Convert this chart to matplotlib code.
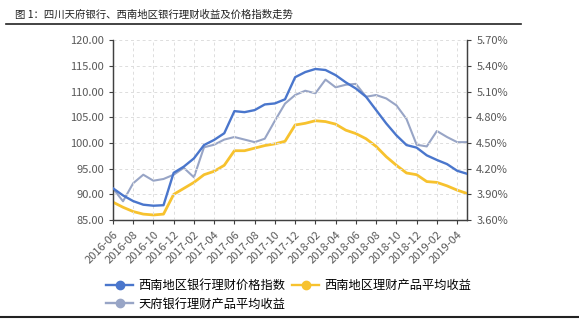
import numpy as np
import matplotlib
matplotlib.use("Agg")
import matplotlib.pyplot as plt
from matplotlib.lines import Line2D

plt.rcParams['font.family'] = ['Noto Sans CJK SC', 'DejaVu Sans']

# monthly, 2016-06 .. 2019-05
months = ['2016-06', '2016-07', '2016-08', '2016-09', '2016-10', '2016-11',
          '2016-12', '2017-01', '2017-02', '2017-03', '2017-04', '2017-05',
          '2017-06', '2017-07', '2017-08', '2017-09', '2017-10', '2017-11',
          '2017-12', '2018-01', '2018-02', '2018-03', '2018-04', '2018-05',
          '2018-06', '2018-07', '2018-08', '2018-09', '2018-10', '2018-11',
          '2018-12', '2019-01', '2019-02', '2019-03', '2019-04', '2019-05']

# 西南地区银行理财价格指数 (left axis)
price_index = [91.2, 89.8, 88.7, 88.0, 87.8, 87.9, 94.2, 95.4, 97.0, 99.6,
               100.6, 101.9, 106.2, 106.0, 106.4, 107.5, 107.7, 108.5, 112.8, 113.8,
               114.4, 114.2, 113.2, 111.8, 110.6, 109.0, 106.4, 103.8, 101.5, 99.6,
               99.1, 97.6, 96.7, 95.9, 94.6, 94.0]

# 西南地区理财产品平均收益 (%, right axis)
sw_yield = [3.81, 3.75, 3.70, 3.67, 3.66, 3.67, 3.90, 3.97, 4.04, 4.13,
            4.17, 4.24, 4.41, 4.41, 4.44, 4.47, 4.49, 4.52, 4.71, 4.73,
            4.76, 4.75, 4.72, 4.65, 4.61, 4.55, 4.46, 4.34, 4.24, 4.15,
            4.13, 4.05, 4.04, 4.00, 3.95, 3.91]

# 天府银行理财产品平均收益 (%, right axis)
tf_yield = [3.97, 3.82, 4.03, 4.13, 4.06, 4.08, 4.13, 4.21, 4.10, 4.45,
            4.48, 4.54, 4.57, 4.54, 4.51, 4.55, 4.76, 4.96, 5.06, 5.11,
            5.08, 5.24, 5.15, 5.18, 5.19, 5.04, 5.06, 5.02, 4.94, 4.78,
            4.48, 4.46, 4.64, 4.57, 4.51, 4.51]

labels = ['西南地区银行理财价格指数', '西南地区理财产品平均收益', '天府银行理财产品平均收益']
colors = ['#4a76cc', '#f7c22e', '#98a5c6']

fig = plt.figure(figsize=(5.79, 3.19), dpi=100)
ax = fig.add_axes([0.195, 0.31, 0.612, 0.564])
ax2 = ax.twinx()

x = np.arange(len(months))
ax.plot(x, price_index, color=colors[0], lw=1.7, zorder=4)
ax2.plot(x, sw_yield, color=colors[1], lw=2.0, zorder=3)
ax2.plot(x, tf_yield, color=colors[2], lw=1.5, zorder=2)
ax.set_zorder(ax2.get_zorder() + 1)
ax.patch.set_visible(False)

ax.set_xlim(0, 35)
ax.set_ylim(85, 120)
ax.set_yticks(np.arange(85, 120.1, 5))
ax.set_yticklabels(['%.2f' % v for v in np.arange(85, 120.1, 5)])
ax2.set_ylim(3.6, 5.7)
yt = np.arange(3.6, 5.71, 0.3)
ax2.set_yticks(yt)
ax2.set_yticklabels(['%.2f%%' % v for v in yt])

ax.set_xticks(x[::2])
ax.set_xticklabels(months[::2], rotation=45, ha='right', rotation_mode='anchor')

ax.grid(True, color='#dddddd', ls=(0, (3, 3)), lw=0.7)
for a in (ax, ax2):
    a.spines['top'].set_visible(False)
    for s in ('left', 'right', 'bottom'):
        a.spines[s].set_color('#404040')
        a.spines[s].set_linewidth(0.9)
    a.tick_params(labelsize=8, colors='#595959', length=3, width=0.8)
    a.tick_params(axis='both', color='#404040')

handles = [Line2D([], [], color=c, lw=1.7, marker='o', ms=6) for c in colors]
# column-major fill: put the gray one second so rows read blue, yellow / gray
fig.legend([handles[0], handles[2], handles[1]], [labels[0], labels[2], labels[1]],
           ncol=2, loc='upper left',
           bbox_to_anchor=(0.175, 0.14), frameon=False, fontsize=8.8,
           handlelength=2.2, columnspacing=0.6, labelspacing=0.45,
           borderaxespad=0, handletextpad=0.4)

fig.text(0.026, 0.97, '图 1：四川天府银行、西南地区银行理财收益及价格指数走势',
         fontsize=7.5, va='top', ha='left', color='#222222')
fig.add_artist(Line2D([0.01, 0.9], [0.925, 0.925], color='#222222', lw=1.2))
fig.add_artist(Line2D([0.0, 1.0], [0.006, 0.006], color='#222222', lw=1.5))

fig.savefig('out.png', dpi=100)
